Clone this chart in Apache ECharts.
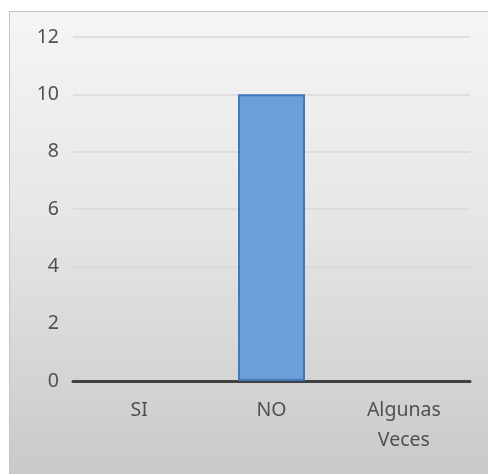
<!DOCTYPE html>
<html>
<head>
<meta charset="utf-8">
<script src="https://cdn.jsdelivr.net/npm/echarts@6/dist/echarts.min.js"></script>
<style>
  html, body { margin: 0; padding: 0; background: #ffffff; }
  #frame {
    position: absolute; left: 9px; top: 11px; width: 479px; height: 463px;
    border-left: 1px solid #c4c4c4; border-top: 1px solid #c4c4c4;
    background: linear-gradient(to bottom, #f5f5f5 0%, #e6e6e6 45%, #c9c9c9 100%);
  }
  #chart { position: absolute; left: 0; top: 0; width: 488px; height: 474px; }
</style>
</head>
<body>
<div id="frame"></div>
<div id="chart"></div>
<script>
// Respuestas por categoría
const categories = ['SI', 'NO', 'Algunas\nVeces'];
const values = [0, 10, 0];
const yTicks = { min: 0, max: 12, interval: 2 };

const chart = echarts.init(document.getElementById('chart'), null, { renderer: 'canvas' });
const font = '"Noto Sans", "Open Sans", sans-serif';

// zero-height bars get no outline
const barData = values.map(v => ({
  value: v,
  itemStyle: { borderWidth: v === 0 ? 0 : 2 }
}));

chart.setOption({
  backgroundColor: 'transparent',
  animation: false,
  grid: { left: 73, right: 18, top: 37, bottom: 93, containLabel: false },
  xAxis: {
    type: 'category',
    data: categories,
    axisLine: { show: true, lineStyle: { color: '#404040', width: 3 } },
    axisTick: { show: false },
    axisLabel: {
      color: '#505050', fontSize: 19.5, fontFamily: font,
      margin: 14, lineHeight: 30, interval: 0
    },
    splitLine: { show: false }
  },
  yAxis: {
    type: 'value',
    min: yTicks.min, max: yTicks.max, interval: yTicks.interval,
    axisLine: { show: false },
    axisTick: { show: false },
    axisLabel: { color: '#505050', fontSize: 19.5, fontFamily: font, margin: 14 },
    splitLine: { lineStyle: { color: '#d9d9d9', width: 1.5 } }
  },
  series: [{
    type: 'bar',
    data: barData,
    barWidth: 67,
    z: 1,
    itemStyle: { color: '#6a9fd7', borderColor: '#4177bd', borderWidth: 2 }
  }]
});
</script>
</body>
</html>
